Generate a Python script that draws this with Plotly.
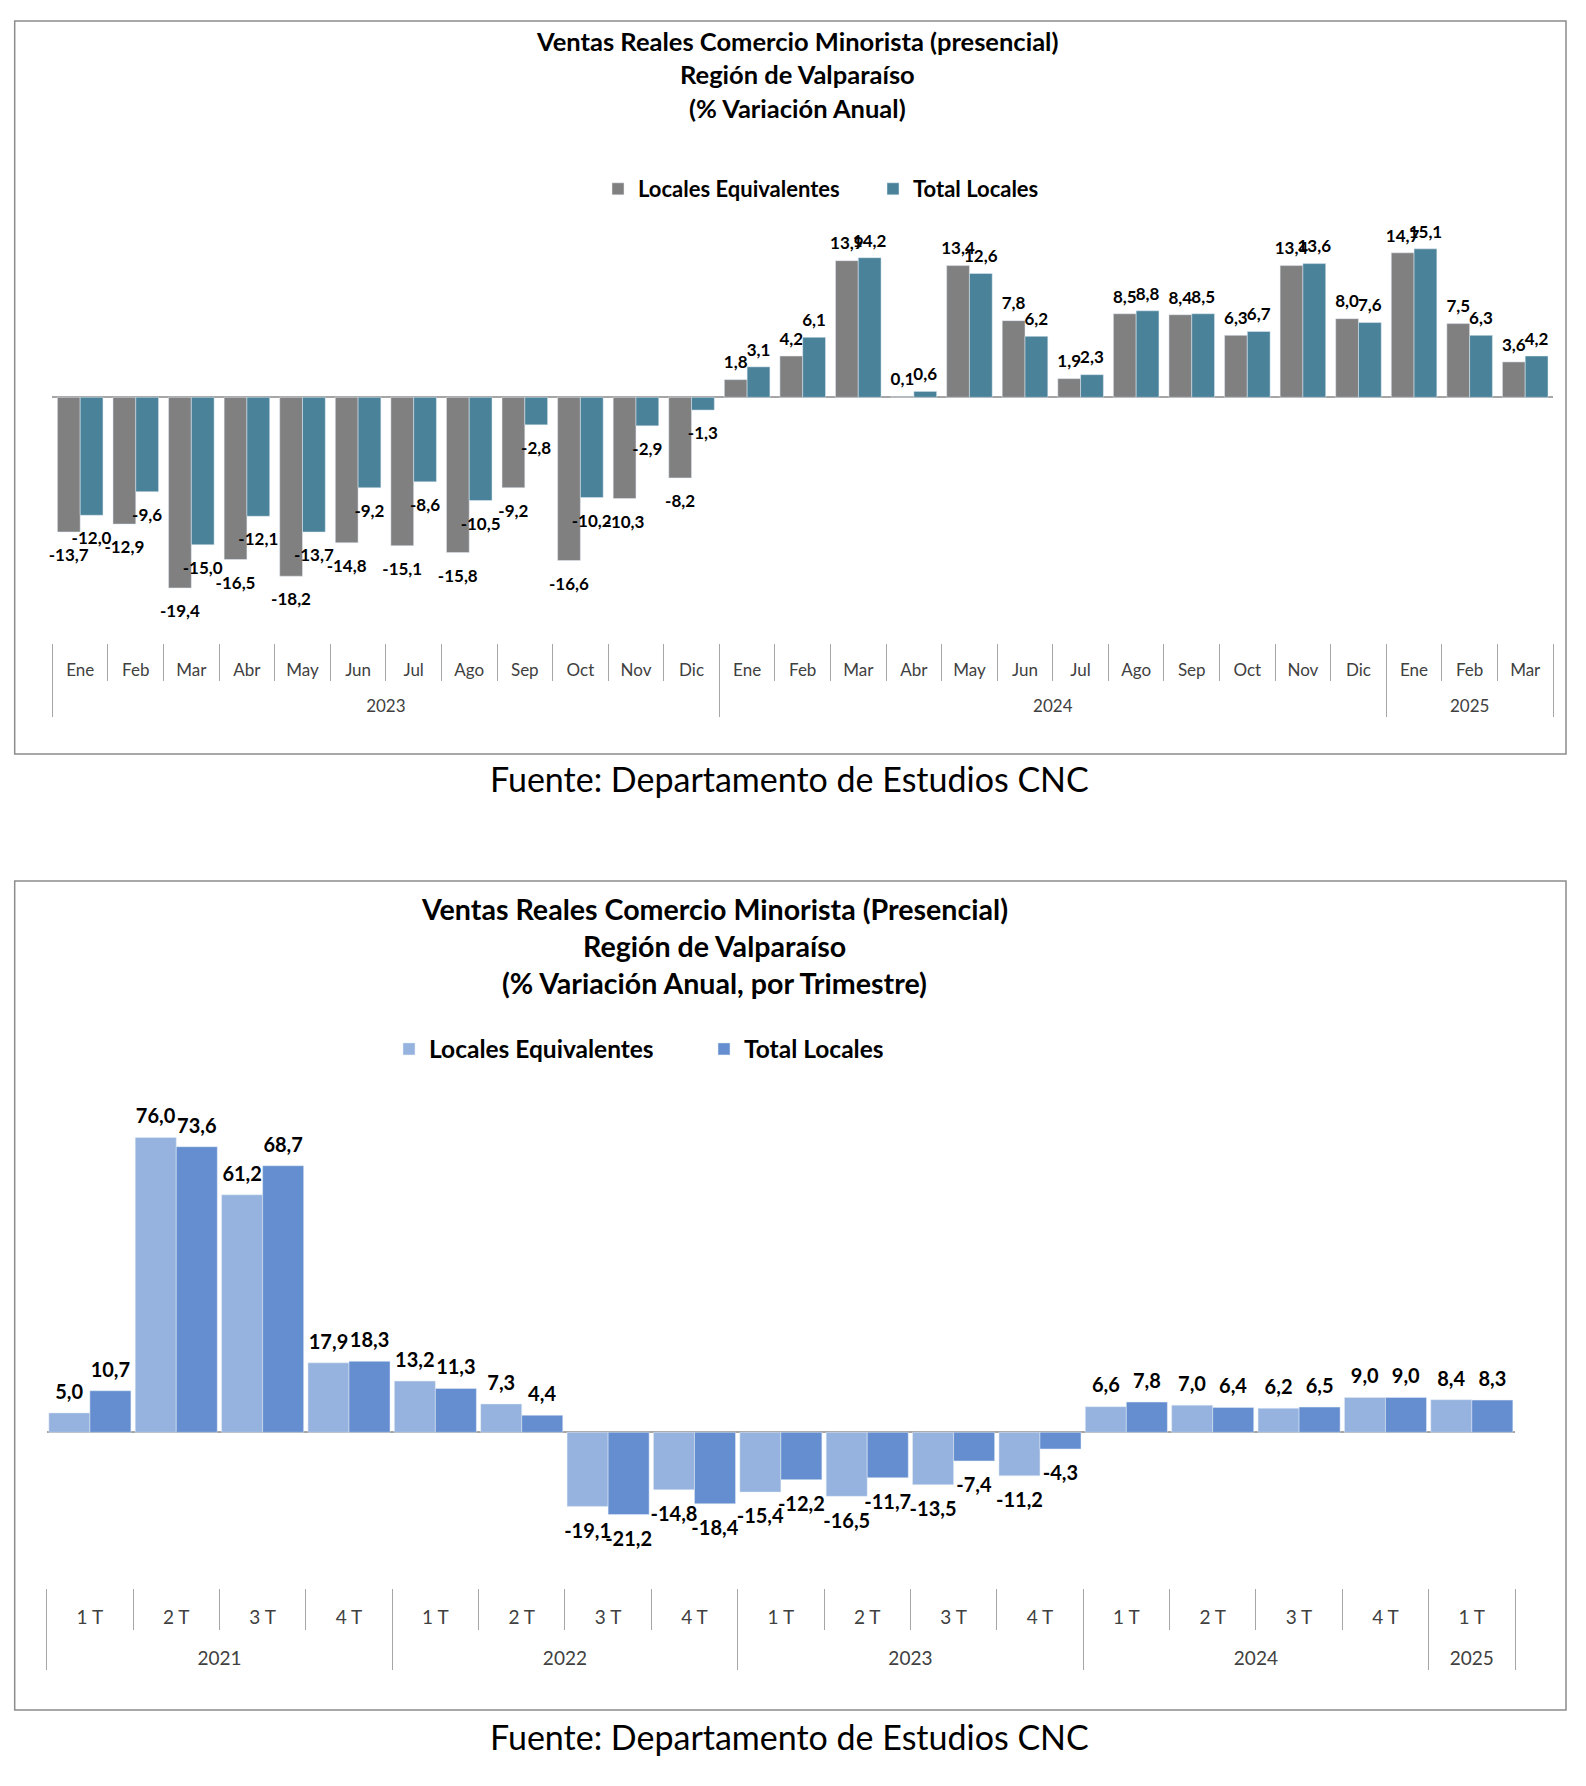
import plotly.graph_objects as go

# ---------------- Data: chart 1 (monthly) ----------------
years1 = ["2023"] * 12 + ["2024"] * 12 + ["2025"] * 3
months1 = ["Ene", "Feb", "Mar", "Abr", "May", "Jun", "Jul", "Ago", "Sep", "Oct", "Nov", "Dic"] * 2 + ["Ene", "Feb", "Mar"]
equiv1 = [-13.7, -12.9, -19.4, -16.5, -18.2, -14.8, -15.1, -15.8, -9.2, -16.6, -10.3, -8.2,
          1.8, 4.2, 13.9, 0.1, 13.4, 7.8, 1.9, 8.5, 8.4, 6.3, 13.4, 8.0,
          14.7, 7.5, 3.6]
total1 = [-12.0, -9.6, -15.0, -12.1, -13.7, -9.2, -8.6, -10.5, -2.8, -10.2, -2.9, -1.3,
          3.1, 6.1, 14.2, 0.6, 12.6, 6.2, 2.3, 8.8, 8.5, 6.7, 13.6, 7.6,
          15.1, 6.3, 4.2]

# ---------------- Data: chart 2 (quarterly) ----------------
years2 = ["2021"] * 4 + ["2022"] * 4 + ["2023"] * 4 + ["2024"] * 4 + ["2025"]
quarters2 = ["1 T", "2 T", "3 T", "4 T"] * 4 + ["1 T"]
equiv2 = [5.0, 76.0, 61.2, 17.9, 13.2, 7.3, -19.1, -14.8, -15.4, -16.5, -13.5, -11.2, 6.6, 7.0, 6.2, 9.0, 8.4]
total2 = [10.7, 73.6, 68.7, 18.3, 11.3, 4.4, -21.2, -18.4, -12.2, -11.7, -7.4, -4.3, 7.8, 6.4, 6.5, 9.0, 8.3]

series_names = ["Locales Equivalentes", "Total Locales"]
title1 = ["Ventas Reales Comercio Minorista (presencial)", "Región de Valparaíso", "(% Variación Anual)"]
title2 = ["Ventas Reales Comercio Minorista (Presencial)", "Región de Valparaíso", "(% Variación Anual, por Trimestre)"]
source_text = "Fuente: Departamento de Estudios CNC"

# page body has an 8px margin: figure is drawn inside it
OFF = 8
W, H = 1586 - 2 * OFF, 1786 - 2 * OFF
FONT = "Lato"
NBSP = "\u00a0"


def labels(vals, vis, n_top, n_bot):
    """Data labels with decimal comma; an invisible line adds the gap Excel leaves at the bar end."""
    out = []
    for v in vals:
        s = f"{v:.1f}".replace(".", ",")
        core = f"<span style='font-size:{vis}px'>{s}</span>"
        if v < 0:
            out.append(f"<span style='font-size:{n_top}px'>{NBSP}</span><br>{core}")
        else:
            out.append(f"{core}<br><span style='font-size:{n_bot}px'>{NBSP}</span>")
    return out


def padded(cats, size):
    # an invisible second line makes room for the year row below the month row
    return [f"{s}<br><span style='font-size:{size}px'>{NBSP}</span>" for s in cats]


def px_y(p):
    return 1 - (p - OFF) / H


def px_x(p):
    return (p - OFF) / W


fig = go.Figure()

base_txt = dict(family=FONT, size=4, color="black", weight="bold")

m1 = padded(months1, 41)
q2 = padded(quarters2, 46)

# chart 1 bars
bw1 = 0.41
fig.add_trace(go.Bar(x=[years1, m1], y=equiv1, name=series_names[0], marker_color="#808080",
                     width=bw1, offset=-bw1, text=labels(equiv1, 17, 21, 15), textposition="outside",
                     textfont=base_txt, constraintext="none",
                     cliponaxis=False, xaxis="x", yaxis="y", legend="legend"))
fig.add_trace(go.Bar(x=[years1, m1], y=total1, name=series_names[1], marker_color="#4A8299",
                     width=bw1, offset=0, text=labels(total1, 17, 21, 15), textposition="outside",
                     textfont=base_txt, constraintext="none",
                     cliponaxis=False, xaxis="x", yaxis="y", legend="legend"))

# chart 2 bars
bw2 = 0.475
fig.add_trace(go.Bar(x=[years2, q2], y=equiv2, name=series_names[0], marker_color="#95B3DE",
                     width=bw2, offset=-bw2, text=labels(equiv2, 20, 23, 27), textposition="outside",
                     textfont=base_txt, constraintext="none",
                     cliponaxis=False, xaxis="x2", yaxis="y2", legend="legend2"))
fig.add_trace(go.Bar(x=[years2, q2], y=total2, name=series_names[1], marker_color="#648ECF",
                     width=bw2, offset=0, text=labels(total2, 20, 23, 27), textposition="outside",
                     textfont=base_txt, constraintext="none",
                     cliponaxis=False, xaxis="x2", yaxis="y2", legend="legend2"))

axcol = "#A6A6A6"

# chart geometry (pixels)
zero1, scale1, top1, bot1 = 397.3, 9.83, 225, 643
zero2, scale2, top2, bot2 = 1432.3, 3.88, 1110, 1588
xd1 = [px_x(52.4), px_x(1553)]
xd2 = [px_x(46.7), px_x(1515)]
n1, n2 = len(months1), len(quarters2)

xcommon = dict(type="multicategory", showline=False, ticks="outside", tickson="boundaries",
               tickcolor=axcol, tickwidth=1, dividercolor=axcol, dividerwidth=1, showdividers=True,
               showgrid=False, zeroline=False)
ycommon = dict(showticklabels=False, showgrid=False, showline=False, ticks="",
               zeroline=True, zerolinecolor=axcol, zerolinewidth=2)
# small tick marks hanging under the zero line
zcommon = dict(anchor="free", showticklabels=False, showgrid=False, showline=False, zeroline=False,
               tickmode="linear", tick0=-0.5, dtick=1, ticks="outside", ticklen=6,
               tickcolor=axcol, tickwidth=1)

fig.update_layout(
    width=W, height=H, margin=dict(l=0, r=0, t=0, b=0),
    paper_bgcolor="white", plot_bgcolor="white",
    barmode="group",
    xaxis=dict(domain=xd1, anchor="y", range=[-0.5, n1 - 0.5], ticklen=37, ticklabelstandoff=15,
               tickfont=dict(family=FONT, size=17, color="#404040"), **xcommon),
    yaxis=dict(domain=[px_y(bot1), px_y(top1)], anchor="x",
               range=[-(bot1 - zero1) / scale1, (zero1 - top1) / scale1], **ycommon),
    xaxis2=dict(domain=xd2, anchor="y2", range=[-0.5, n2 - 0.5], ticklen=41, ticklabelstandoff=16,
                tickfont=dict(family=FONT, size=19, color="#404040"), **xcommon),
    yaxis2=dict(domain=[px_y(bot2), px_y(top2)], anchor="x2",
                range=[-(bot2 - zero2) / scale2, (zero2 - top2) / scale2], **ycommon),
    xaxis3=dict(domain=xd1, overlaying="x", position=px_y(zero1), range=[-0.5, n1 - 0.5], **zcommon),
    xaxis4=dict(domain=xd2, overlaying="x2", position=px_y(zero2), range=[-0.5, n2 - 0.5], **zcommon),
    legend=dict(orientation="h", x=px_x(598), y=px_y(189), xanchor="left", yanchor="middle",
                font=dict(family=FONT, size=22, color="black", weight="bold"),
                entrywidth=230, bgcolor="rgba(0,0,0,0)", traceorder="normal"),
    legend2=dict(orientation="h", x=px_x(389), y=px_y(1049), xanchor="left", yanchor="middle",
                 font=dict(family=FONT, size=24.5, color="black", weight="bold"),
                 entrywidth=270, bgcolor="rgba(0,0,0,0)", traceorder="normal"),
    showlegend=True,
)

# frames
fig.add_shape(type="rect", xref="paper", yref="paper", x0=px_x(14.7), x1=px_x(1566), y0=px_y(754), y1=px_y(21),
              line=dict(color="#8C8C8C", width=1.5), fillcolor="rgba(0,0,0,0)", layer="below")
fig.add_shape(type="rect", xref="paper", yref="paper", x0=px_x(14.7), x1=px_x(1566), y0=px_y(1710), y1=px_y(881),
              line=dict(color="#8C8C8C", width=1.5), fillcolor="rgba(0,0,0,0)", layer="below")

# titles
for txt, yy in zip(title1, [41, 74, 108]):
    fig.add_annotation(text=txt, xref="paper", yref="paper", x=px_x(797), y=px_y(yy), showarrow=False,
                       xanchor="center", yanchor="middle", font=dict(family=FONT, size=25.5, color="black", weight="bold"))
for txt, yy in zip(title2, [909, 946, 983]):
    fig.add_annotation(text=txt, xref="paper", yref="paper", x=px_x(714.5), y=px_y(yy), showarrow=False,
                       xanchor="center", yanchor="middle", font=dict(family=FONT, size=28.6, color="black", weight="bold"))

# sources
for yy in [778, 1736]:
    fig.add_annotation(text=source_text, xref="paper", yref="paper", x=px_x(789), y=px_y(yy), showarrow=False,
                       xanchor="center", yanchor="middle", font=dict(family=FONT, size=34, color="black"))

fig.write_html("out.html")
